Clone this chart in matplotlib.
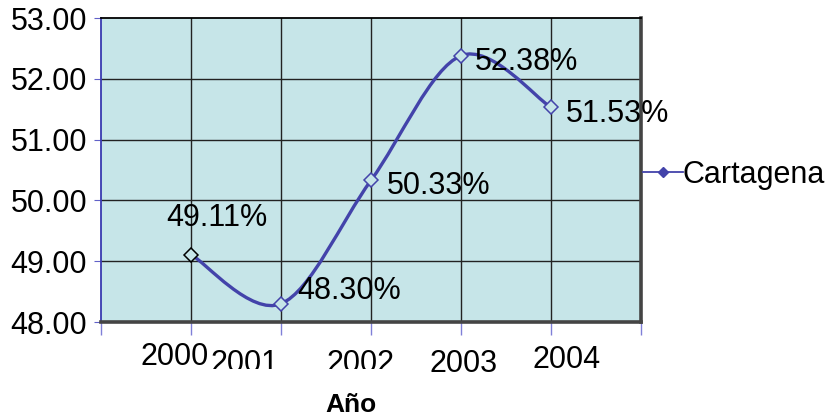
import matplotlib.pyplot as plt
from matplotlib.path import Path
from matplotlib.patches import PathPatch
from matplotlib.lines import Line2D
import matplotlib.transforms as mtransforms

plt.rcParams['font.family'] = ['Liberation Sans', 'DejaVu Sans']

# Data
years = ["2000", "2001", "2002", "2003", "2004"]
values = [49.11, 48.30, 50.33, 52.38, 51.53]
series_name = "Cartagena"

# label offsets in pixels (dx, dy) from each point, and year label nudges
label_off = [(26, 37), (16, 13), (16, -6), (14, -6), (15, -7)]
year_dx = [-16, -36, -10, 3, 16]
year_y = [357, 364, 364, 364, 360]
year_clip = [False, True, True, False, False]

bg = '#C6E5E8'
line_c = '#4343AA'

fig = plt.figure(figsize=(8.34, 4.19), dpi=100)
ax = fig.add_axes([101/834, 1-322/419, 540/834, 304/419])
ax.set_facecolor(bg)

xs = list(range(len(values)))
ax.set_xlim(-1, 5)
ax.set_ylim(48, 53)

# grid
for x in xs:
    ax.axvline(x, color='#222222', lw=1, zorder=1)
for y in range(49, 53):
    ax.axhline(y, color='#222222', lw=1, zorder=1)

# smoothed line (Catmull-Rom style bezier through the points)
pts = list(zip(xs, values))
verts = [pts[0]]
codes = [Path.MOVETO]
n = len(pts)
for i in range(n - 1):
    p0 = pts[max(i - 1, 0)]
    p1 = pts[i]
    p2 = pts[i + 1]
    p3 = pts[min(i + 2, n - 1)]
    c1 = (p1[0] + (p2[0] - p0[0]) / 6, p1[1] + (p2[1] - p0[1]) / 6)
    c2 = (p2[0] - (p3[0] - p1[0]) / 6, p2[1] - (p3[1] - p1[1]) / 6)
    verts += [c1, c2, p2]
    codes += [Path.CURVE4] * 3
ax.add_patch(PathPatch(Path(verts, codes), facecolor='none', edgecolor=line_c,
                       lw=2.4, zorder=3, capstyle='round'))

# markers
for i, (x, v) in enumerate(pts):
    ec = 'black' if i == 0 else line_c
    ax.plot([x], [v], marker='D', ms=7, mfc=bg, mec=ec, mew=1.1, zorder=4)

# data labels
for (x, v), (dx, dy) in zip(pts, label_off):
    ha = 'center' if dx > 20 else 'left'
    ax.annotate(f"{v:.2f}%", (x, v), xytext=(dx * 0.72, dy * 0.72),
                textcoords='offset points', ha=ha, va='center',
                fontsize=22, zorder=5)

# axes frame
ax.spines['top'].set_color('black')
ax.spines['top'].set_linewidth(1.3)
ax.spines['left'].set_color('#3A3AB0')
ax.spines['left'].set_linewidth(1.3)
ax.spines['right'].set_color('#444444')
ax.spines['right'].set_linewidth(2.6)
ax.spines['bottom'].set_color('#444444')
ax.spines['bottom'].set_linewidth(2.6)

# y ticks
ax.set_yticks(range(48, 54))
ax.set_yticklabels([f"{y:.2f}" for y in range(48, 54)], fontsize=22)
ax.tick_params(axis='y', length=5, color='#6060C8', pad=5)

# x ticks with staggered labels placed by hand
ax.set_xticks(range(-1, 6))
ax.set_xticklabels([])
ax.tick_params(axis='x', length=9, color='#8080D8', width=1)

# the middle labels get cut off at the bottom
clip_box = mtransforms.Bbox.from_extents(0, 419 - 369, 834, 419)
for x, lab, dx, yy, clip in zip(xs, years, year_dx, year_y, year_clip):
    tr = mtransforms.blended_transform_factory(ax.transData, fig.transFigure)
    tr = tr + mtransforms.ScaledTranslation(dx / 100, 0, fig.dpi_scale_trans)
    t = ax.text(x, 1 - yy/419, lab, transform=tr, ha='center', va='center',
                fontsize=22, clip_on=clip)
    if clip:
        t.set_clip_box(clip_box)

fig.text(351/834, 1 - 405/419, "Año", ha='center', va='center',
         fontsize=19, fontweight='bold')

# legend
handle = Line2D([], [], color=line_c, lw=1.3, marker='D', ms=5,
                mfc=line_c, mec=line_c)
fig.legend([handle], [series_name], loc='center left',
           bbox_to_anchor=(643/834, 1 - 175/419), frameon=False,
           fontsize=22, handlelength=1.3, handletextpad=0.0,
           borderpad=0, borderaxespad=0)

fig.savefig('out.png', dpi=100)
